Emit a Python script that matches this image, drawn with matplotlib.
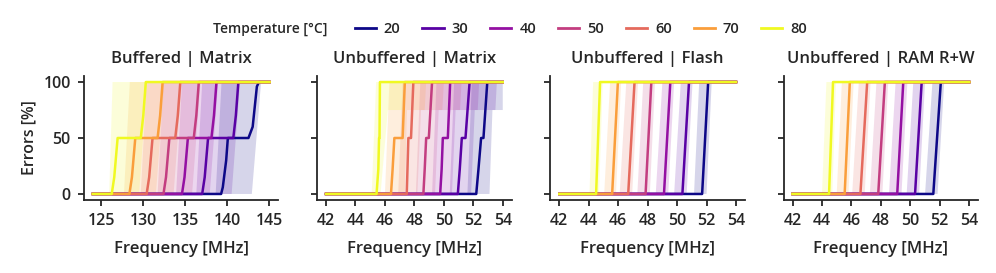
import numpy as np
import matplotlib
matplotlib.use("Agg")
import matplotlib.pyplot as plt
from matplotlib.lines import Line2D

plt.rcParams['font.family'] = ['Open Sans', 'DejaVu Sans']
plt.rcParams['font.weight'] = 'semibold'
plt.rcParams['text.color'] = '#262626'
plt.rcParams['axes.labelcolor'] = '#262626'
plt.rcParams['xtick.color'] = '#262626'
plt.rcParams['ytick.color'] = '#262626'

temps = [20, 30, 40, 50, 60, 70, 80]
titles = ['Buffered | Matrix', 'Unbuffered | Matrix', 'Unbuffered | Flash', 'Unbuffered | RAM R+W']
xticks = [[125, 130, 135, 140, 145], [42, 44, 46, 48, 50, 52, 54],
          [42, 44, 46, 48, 50, 52, 54], [42, 44, 46, 48, 50, 52, 54]]

# ---- Buffered | Matrix: median curve (freq, err) per temperature
bm_main_f = [
    [124, 139.25, 139.45, 139.85, 140.05, 142.5, 143.0, 143.5, 143.75, 145],
    [124, 137.0, 137.3, 137.7, 140.7, 141.0, 141.3, 145],
    [124, 134.6, 134.9, 135.3, 138.1, 138.4, 138.7, 145],
    [124, 132.4, 132.7, 133.1, 136.0, 136.3, 136.6, 145],
    [124, 130.4, 130.7, 131.1, 133.8, 134.1, 134.4, 145],
    [124, 128.35, 128.65, 129.05, 131.7, 132.0, 132.3, 145],
    [124, 126.25, 126.55, 126.95, 129.7, 130.0, 130.3, 145],
]
bm_main_e = [
    [0, 0, 6, 30, 50, 50, 60, 96, 100, 100],
    [0, 0, 15, 50, 50, 70, 100, 100],
    [0, 0, 15, 50, 50, 70, 100, 100],
    [0, 0, 15, 50, 50, 70, 100, 100],
    [0, 0, 15, 50, 50, 70, 100, 100],
    [0, 0, 15, 50, 50, 70, 100, 100],
    [0, 0, 15, 50, 50, 70, 100, 100],
]
# band: earliest device (upper bound) and latest device (lower bound)
bm_hi_f = [[124, 138.6, 139.3, 145], [124, 136.3, 137.0, 145], [124, 133.9, 134.6, 145],
           [124, 131.7, 132.4, 145], [124, 129.7, 130.4, 145], [124, 127.7, 128.4, 145],
           [124, 125.95, 126.35, 145]]
bm_hi_e = [0, 0, 100, 100]
bm_lo_f = [[124, 142.9, 144.0, 145], [124, 140.5, 141.5, 145], [124, 137.9, 138.9, 145],
           [124, 135.8, 136.8, 145], [124, 133.6, 134.6, 145], [124, 131.5, 132.5, 145],
           [124, 129.5, 130.45, 145]]
bm_lo_e = [0, 0, 100, 100]

# ---- Unbuffered | Matrix
um_main_f = [
    [42, 52.2, 52.35, 52.53, 52.69, 52.95, 54],
    [42, 50.95, 51.08, 51.22, 51.47, 51.75, 54],
    [42, 49.75, 49.85, 49.93, 50.27, 50.43, 54],
    [42, 48.61, 48.7, 48.8, 48.98, 49.2, 54],
    [42, 47.48, 47.53, 47.59, 47.77, 47.93, 54],
    [42, 46.41, 46.52, 46.64, 47.2, 47.35, 54],
    [42, 45.43, 45.55, 45.6, 45.63, 45.66, 54],
]
um_main_e = [0, 0, 22, 50, 50, 100, 100]
um_hi_f = [[42, 51.6, 51.9, 54], [42, 50.4, 50.7, 54], [42, 49.2, 49.5, 54],
           [42, 48.1, 48.4, 54], [42, 46.9, 47.2, 54], [42, 46.0, 46.3, 54],
           [42, 45.1, 45.4, 54]]
um_hi_e = [0, 0, 100, 100]
um_lo_f = [[42, 53.1, 53.3, 54.0, 54.0, 54], [42, 51.85, 52.1, 53.5, 53.6, 54],
           [42, 50.55, 50.8, 52.3, 52.4, 54], [42, 49.4, 49.65, 51.1, 51.2, 54],
           [42, 48.2, 48.45, 49.9, 50.0, 54], [42, 47.35, 47.5, 48.7, 48.8, 54],
           [42, 45.7, 46.2, 47.2, 47.3, 54]]
um_lo_e = [0, 0, 75, 75, 100, 100]

# ---- Unbuffered | Flash
fl_main_f = [[42, 51.7, 52.11, 54], [42, 50.36, 50.81, 54], [42, 49.11, 49.54, 54],
             [42, 47.86, 48.25, 54], [42, 46.68, 47.11, 54], [42, 45.59, 45.98, 54],
             [42, 44.5, 44.77, 54]]
fl_hi_f = [[42, 51.15, 51.5, 54], [42, 49.8, 50.25, 54], [42, 48.55, 49.0, 54],
           [42, 47.3, 47.7, 54], [42, 46.1, 46.55, 54], [42, 45.05, 45.45, 54],
           [42, 44.05, 44.3, 54]]
fl_lo_f = [[42, 52.0, 52.35, 54], [42, 50.65, 51.05, 54], [42, 49.4, 49.8, 54],
           [42, 48.15, 48.5, 54], [42, 46.95, 47.35, 54], [42, 45.85, 46.2, 54],
           [42, 44.7, 44.95, 54]]

# ---- Unbuffered | RAM R+W
rw_main_f = [[42, 51.56, 52.07, 54], [42, 50.32, 50.77, 54], [42, 49.11, 49.52, 54],
             [42, 47.82, 48.27, 54], [42, 46.61, 47.07, 54], [42, 45.54, 45.89, 54],
             [42, 44.48, 44.75, 54]]
rw_hi_f = [[42, 51.0, 51.5, 54], [42, 49.75, 50.2, 54], [42, 48.55, 49.0, 54],
           [42, 47.25, 47.7, 54], [42, 46.05, 46.5, 54], [42, 45.0, 45.35, 54],
           [42, 44.0, 44.3, 54]]
rw_lo_f = [[42, 51.85, 52.3, 54], [42, 50.6, 51.0, 54], [42, 49.4, 49.8, 54],
           [42, 48.1, 48.5, 54], [42, 46.9, 47.3, 54], [42, 45.8, 46.15, 54],
           [42, 44.7, 44.95, 54]]
step_e = [0, 0, 100, 100]

panels = [
    (bm_main_f, bm_main_e, bm_hi_f, bm_hi_e, bm_lo_f, bm_lo_e),
    (um_main_f, [um_main_e] * 7, um_hi_f, um_hi_e, um_lo_f, um_lo_e),
    (fl_main_f, [step_e] * 7, fl_hi_f, step_e, fl_lo_f, step_e),
    (rw_main_f, [step_e] * 7, rw_hi_f, step_e, rw_lo_f, step_e),
]

colors = [plt.cm.plasma(v) for v in np.linspace(0, 0.93, 7)]
colors[-1] = plt.cm.plasma(1.0)

fig, axes = plt.subplots(1, 4, figsize=(9.96, 2.73), dpi=100, sharey=True)
fig.subplots_adjust(left=0.0843, right=0.982, bottom=0.269, top=0.72, wspace=0.2)

for k, ax in enumerate(axes):
    mf, me, hf, he, lf, le = panels[k]
    for i in range(7):
        px = list(hf[i]) + list(lf[i])[::-1]
        py = list(he) + list(le)[::-1]
        ax.fill(px, py, color=colors[i], alpha=0.17, lw=0)
    for i in range(7):
        ax.plot(mf[i], me[i], color=colors[i], lw=1.8, solid_joinstyle='round')
    ax.set_title(titles[k], fontsize=12, fontweight='semibold', pad=10)
    ax.set_xticks(xticks[k])
    ax.set_xlabel('Frequency [MHz]', fontsize=12, fontweight='semibold', labelpad=9)
    ax.set_ylim(-5, 105)
    ax.set_yticks([0, 50, 100])
    for s in ['top', 'right']:
        ax.spines[s].set_visible(False)
    for s in ['left', 'bottom']:
        ax.spines[s].set_linewidth(1.3)
        ax.spines[s].set_color('#262626')
    ax.tick_params(width=1.3, length=4.5, labelsize=11.5)
    ax.tick_params(axis='x', pad=5)
    ax.tick_params(axis='y', pad=5)

axes[0].set_ylabel('Errors [%]', fontsize=11.5, fontweight='semibold', labelpad=4)

handles = [Line2D([], [], color=colors[i], lw=2) for i in range(7)]
fig.text(0.329, 0.894, 'Temperature [°C]', ha='right', va='center', fontsize=10, fontweight='semibold')
fig.legend(handles, [str(t) for t in temps], loc='center left', bbox_to_anchor=(0.356, 0.894),
           ncol=7, frameon=False, fontsize=10.5, handlelength=1.45, handletextpad=0.55,
           columnspacing=1.5, borderaxespad=0, borderpad=0)

fig.savefig('out.png', dpi=100)
